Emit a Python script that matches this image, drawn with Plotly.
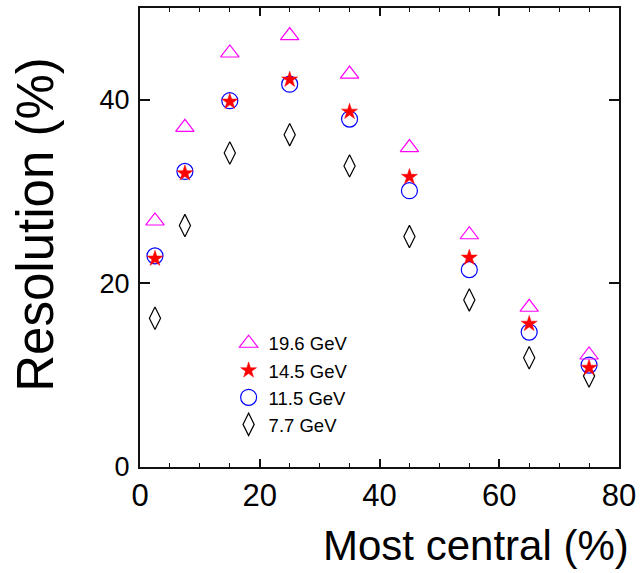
import plotly.graph_objects as go

centrality = [2.5, 7.5, 15, 25, 35, 45, 55, 65, 75]
res_196 = [26.8, 37.0, 45.1, 47.0, 42.8, 34.8, 25.3, 17.4, 12.2]
res_145 = [22.7, 32.0, 39.8, 42.2, 38.7, 31.6, 22.8, 15.6, 10.8]
res_115 = [23.0, 32.2, 39.9, 41.7, 37.9, 30.1, 21.5, 14.7, 11.1]
res_77 = [16.2, 26.3, 34.2, 36.2, 32.8, 25.1, 18.2, 11.9, 9.9]

FONT = "Liberation Sans, Arial, Helvetica, sans-serif"

fig = go.Figure()
fig.add_trace(go.Scatter(x=centrality, y=res_77, mode="markers", name="7.7 GeV", legendrank=4,
                         marker=dict(symbol="diamond-tall-open", size=16, color="black",
                                     line=dict(width=1.2, color="black"))))
fig.add_trace(go.Scatter(x=centrality, y=res_115, mode="markers", name="11.5 GeV", legendrank=3,
                         marker=dict(symbol="circle-open", size=16, color="#0000ff",
                                     line=dict(width=1.2, color="#0000ff"))))
fig.add_trace(go.Scatter(x=centrality, y=res_145, mode="markers", name="14.5 GeV", legendrank=2,
                         marker=dict(symbol="star", size=12, color="#ff0000",
                                     line=dict(width=0.5, color="#ff0000"))))
fig.add_trace(go.Scatter(x=centrality, y=res_196, mode="markers", name="19.6 GeV", legendrank=1,
                         marker=dict(symbol="triangle-up-open", size=16, color="#ff00ff",
                                     line=dict(width=1.2, color="#ff00ff"))))

axis_common = dict(showgrid=False, zeroline=False, showline=True, linewidth=2, linecolor="#111",
                   mirror="allticks", ticks="inside", tickcolor="#111", tickwidth=1.5)

fig.update_xaxes(range=[0, 80], tickvals=[0, 20, 40, 60, 80], ticklen=8,
                 tickfont=dict(family=FONT, size=31, color="black"), ticklabelstandoff=0,
                 minor=dict(dtick=5, ticks="inside", ticklen=4, tickcolor="#111", tickwidth=1.2),
                 **axis_common)
fig.update_yaxes(range=[0, 50], tickvals=[0, 20, 40], ticklen=10,
                 tickfont=dict(family=FONT, size=27, color="black"), ticklabelstandoff=3,
                 **axis_common)

fig.add_annotation(text="Most central (%)", xref="paper", yref="paper", x=1.025, y=-0.226,
                   xanchor="right", yanchor="bottom", showarrow=False,
                   font=dict(family=FONT, size=42, color="black"))
fig.add_annotation(text="Resolution (%)", xref="paper", yref="paper", x=-0.22, y=0.527,
                   xanchor="center", yanchor="middle", textangle=-90, showarrow=False,
                   font=dict(family=FONT, size=51, color="black"))

fig.update_layout(
    width=642, height=573,
    margin=dict(l=140, r=22, t=6, b=106),
    paper_bgcolor="white", plot_bgcolor="white",
    showlegend=True,
    legend=dict(x=0.185, y=0.31, xanchor="left", yanchor="top", bgcolor="rgba(0,0,0,0)",
                font=dict(family=FONT, size=18.5, color="black"), itemwidth=30,
                borderwidth=0),
    font=dict(family=FONT),
)

fig.write_html("out.html", config={"displayModeBar": False},
               post_script="document.body.style.margin='0';")
